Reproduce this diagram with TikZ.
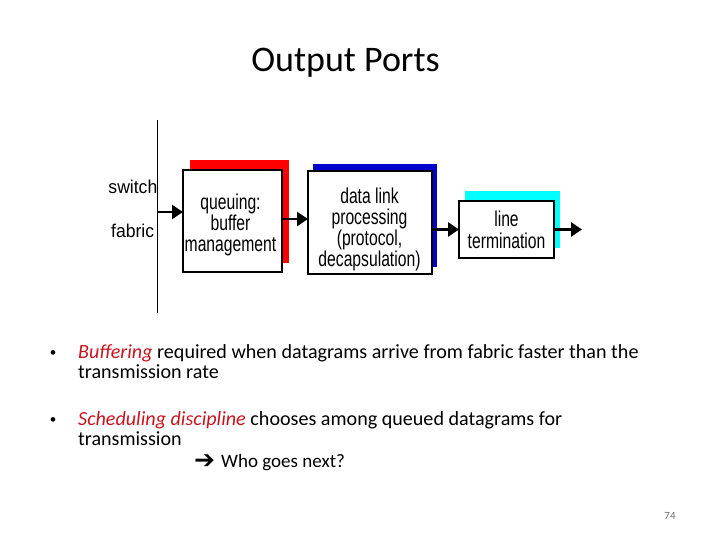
\documentclass[tikz,border=0pt]{standalone}
\usepackage{fontspec}
\setmainfont{Carlito}
\newfontfamily\boxf[FakeStretch=0.73]{Liberation Sans}
\newfontfamily\lblf[FakeStretch=0.95]{Liberation Sans}
\newfontfamily\bulf{Liberation Sans}
\newfontfamily\dejavu{DejaVu Sans}
\usetikzlibrary{arrows.meta}
\definecolor{emred}{RGB}{200,20,30}
\definecolor{shred}{RGB}{255,0,0}
\definecolor{shblue}{RGB}{0,0,204}
\definecolor{shcyan}{RGB}{0,255,255}
\definecolor{pgnum}{RGB}{110,110,110}
\tikzset{
  blk/.style={draw=black, line width=2pt, fill=white, inner sep=0pt},
  blktext/.style={inner sep=0pt, anchor=base, font=\boxf\fontsize{21.5}{21}\selectfont},
  lbl/.style={inner sep=0pt, font=\lblf\fontsize{18.5}{19}\selectfont},
  conn/.style={line width=2.6pt, -{Triangle[length=11pt,width=14pt]}, shorten >=-1pt},
  bodytext/.style={inner sep=0pt, anchor=base west, font=\fontsize{20.1}{22}\selectfont},
  bulletdot/.style={inner sep=0pt, anchor=base west, font=\bulf\fontsize{17}{18}\selectfont},
}
\begin{document}
\begin{tikzpicture}[x=1pt,y=-1pt]
\useasboundingbox (0,0) rectangle (720,540);
% title
\node[inner sep=0pt, anchor=base, font=\fontsize{36}{40}\selectfont] (title) at (345.5,72) {Output Ports};
% vertical fabric line
\coordinate (vtop) at (157,120);
\coordinate (vbot) at (157,313);
\draw[line width=1pt] (vtop) -- (vbot);
\node[lbl, anchor=base east] (sw) at (157.5,193.5) {switch};
\node[lbl, anchor=base west] (fab) at (111,237.5) {fabric};
% shadows
\fill[shred] (189.5,160.5) rectangle (288.5,262.5);
\fill[shblue] (313,164) rectangle (437,267);
\fill[shcyan] (464.5,191) rectangle (559.5,248);
% boxes
\node[blk, minimum width=99pt, minimum height=102pt] (b1) at (232.5,221) {};
\node[blk, minimum width=124pt, minimum height=103pt] (b2) at (370,222.5) {};
\node[blk, minimum width=95pt, minimum height=57pt] (b3) at (506.5,229.5) {};
% box texts
\node[blktext] (b1l1) at (230.5,209.5) {queuing:};
\node[blktext] (b1l2) at (230.5,230.5) {buffer};
\node[blktext] (b1l3) at (230.5,251.5) {management};
\node[blktext] (b2l1) at (369.5,203.5) {data link};
\node[blktext] (b2l2) at (369.5,224.5) {processing};
\node[blktext] (b2l3) at (369.5,245.5) {(protocol,};
\node[blktext] (b2l4) at (369.5,266.5) {decapsulation)};
\node[blktext] (b3l1) at (506.5,226) {line};
\node[blktext] (b3l2) at (506.5,248.3) {termination};
% connectors
\coordinate (in1) at (157,212);
\draw[conn] (in1) -- (in1 -| b1.west);
\draw[conn] ([yshift=2pt]b1.east) -- ([yshift=2pt]b1.east -| b2.west);
\draw[conn] (b3.west -| b2.east) -- (b3.west);
\coordinate (out) at (581,229.5);
\draw[conn] (b3.east) -- (out);
% bullets
\node[bulletdot] (bul1) at (50,358) {•};
\node[bodytext] (t1a) at (78,358) {\textcolor{emred}{\itshape Buffering} required when datagrams arrive from fabric faster than the};
\node[bodytext] (t1b) at (78,378) {transmission rate};
\node[bulletdot] (bul2) at (50,425) {•};
\node[bodytext] (t2a) at (78,425) {\textcolor{emred}{\itshape Scheduling discipline} chooses among queued datagrams for};
\node[bodytext] (t2b) at (78,445) {transmission};
\node[inner sep=0pt, anchor=base west, font=\dejavu\bfseries\fontsize{25}{26}\selectfont] (arr) at (194,468) {➔};
\node[bodytext, font=\fontsize{19}{22}\selectfont] (t3) at (221,467) {Who goes next?};
% page number
\node[inner sep=0pt, anchor=base, text=pgnum, font=\fontsize{11}{12}\selectfont] (pg) at (670,519) {74};
\end{tikzpicture}
\end{document}
